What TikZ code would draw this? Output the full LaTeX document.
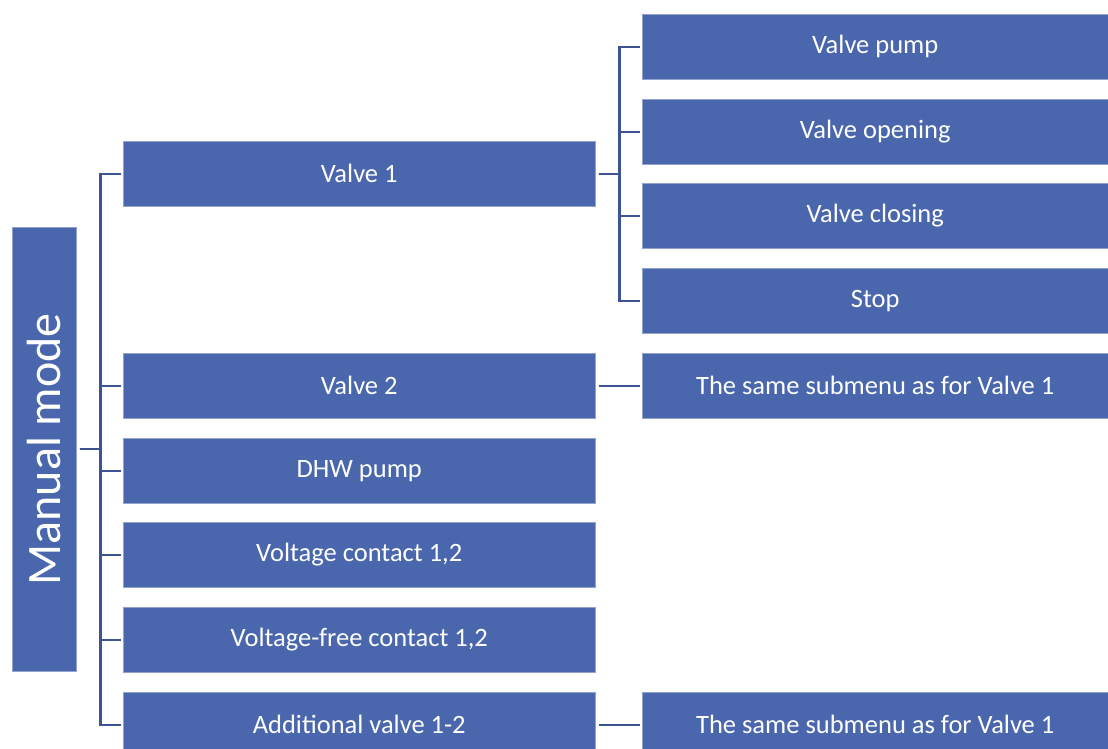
\documentclass[tikz,border=0pt]{standalone}
\usepackage{fontspec}
\setmainfont{Carlito}
\definecolor{boxblue}{RGB}{74,103,173}
\definecolor{lineblue}{RGB}{62,83,145}
\tikzset{
  menubox/.style={rectangle, anchor=north west, inner sep=0pt, fill=boxblue,
    draw=boxblue!60!white, line width=0.5pt, text=white,
    minimum width=#1, minimum height=65pt, font=\fontsize{26.5}{31}\selectfont},
  conn/.style={draw=lineblue, line width=2.2pt, shorten <=3pt, shorten >=2pt}
}
\begin{document}
\begin{tikzpicture}[x=1pt,y=-1pt]
\path[use as bounding box, clip] (0,0) rectangle (1108,749);
\node[rectangle, anchor=north west, inner sep=0pt, fill=boxblue, draw=boxblue!60!white, line width=0.5pt,
  minimum width=64pt, minimum height=444pt] (mm) at (12,227) {};
\node[text=white, rotate=90, font=\fontsize{48}{58}\selectfont] (mmt) at (mm.center) {Manual mode};
% level 1
\node[menubox=472pt] (v1) at (123,141) {Valve 1};
\node[menubox=472pt] (v2) at (123,353) {Valve 2};
\node[menubox=472pt] (dhw) at (123,438) {DHW pump};
\node[menubox=472pt] (vc) at (123,522) {Voltage contact 1,2};
\node[menubox=472pt] (vfc) at (123,607) {Voltage-free contact 1,2};
\node[menubox=472pt] (av) at (123,692) {Additional valve 1-2};
% level 2
\node[menubox=466pt] (vp) at (642,14) {Valve pump};
\node[menubox=466pt] (vo) at (642,99) {Valve opening};
\node[menubox=466pt] (vcl) at (642,183) {Valve closing};
\node[menubox=466pt] (st) at (642,268) {Stop};
\node[menubox=466pt] (s1) at (642,353) {The same submenu as for Valve 1};
\node[menubox=466pt] (s2) at (642,692) {The same submenu as for Valve 1};
% connectors
\foreach \t in {v1,v2,dhw,vc,vfc,av}
  \draw[conn] (mm.east) -- ++(24,0) |- (\t.west);
\foreach \t in {vp,vo,vcl,st}
  \draw[conn] (v1.east) -- ++(24,0) |- (\t.west);
\draw[conn] (v2.east) -- (s1.west);
\draw[conn] (av.east) -- (s2.west);
\end{tikzpicture}
\end{document}
